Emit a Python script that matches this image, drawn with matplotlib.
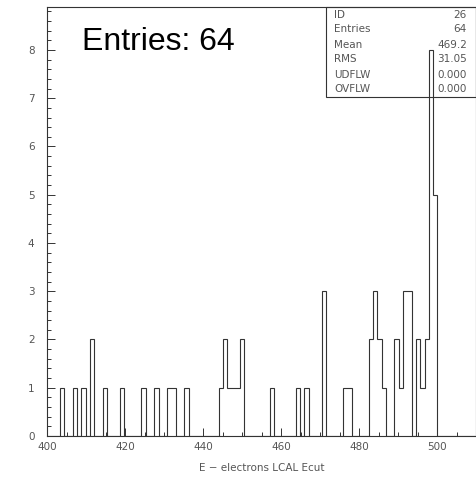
import matplotlib.pyplot as plt
import numpy as np
from matplotlib.ticker import MultipleLocator

# histogram: 100 bins from 400 to 510
x_lo = 400.0
x_hi = 510.0
n_bins = 100

# non-empty bins (index) and their contents
filled_bins = [3, 6, 8, 10, 13, 17, 22, 25, 28, 29, 32,
               40, 41, 42, 43, 44, 45, 52, 58, 60, 64, 69, 70,
               75, 76, 77, 78, 81, 82, 83, 84, 86, 87, 88, 89, 90]
bin_counts = [1, 1, 1, 2, 1, 1, 1, 1, 1, 1, 1,
              1, 2, 1, 1, 1, 2, 1, 1, 1, 3, 1, 1,
              2, 3, 2, 1, 2, 1, 3, 3, 2, 1, 2, 8, 5]

stat_names = ["ID", "Entries", "Mean", "RMS", "UDFLW", "OVFLW"]
stat_values = ["26", "64", "469.2", "31.05", "0.000", "0.000"]

title_text = "Entries: 64"
xlabel = "E \u2212 electrons LCAL Ecut"

edges = np.linspace(x_lo, x_hi, n_bins + 1)
counts = np.zeros(n_bins)
counts[filled_bins] = bin_counts

W, H = 477, 482
fig = plt.figure(figsize=(W / 100, H / 100), dpi=100)
ax = fig.add_axes([47 / W, (H - 436) / H, (476 - 47) / W, (436 - 7) / H])

line_col = "#333333"
txt_col = "#555555"

ax.stairs(counts, edges, color=line_col, lw=0.8, baseline=0)
ax.set_xlim(x_lo, x_hi)
ax.set_ylim(0, 8.89)

ax.xaxis.set_major_locator(MultipleLocator(20))
ax.xaxis.set_minor_locator(MultipleLocator(5))
ax.yaxis.set_major_locator(MultipleLocator(1))
ax.yaxis.set_minor_locator(MultipleLocator(0.2))
ax.tick_params(which="both", direction="in", colors=line_col,
               labelcolor=txt_col, labelsize=7.5, width=0.7)
ax.tick_params(which="major", length=6)
ax.tick_params(which="minor", length=3)
ax.tick_params(axis="y", pad=9)
ax.tick_params(axis="x", pad=4)
for s in ax.spines.values():
    s.set_color(line_col)
    s.set_linewidth(0.8)

ax.set_xlabel(xlabel, fontsize=7.5, color=txt_col, labelpad=8)

ax.text(409, 8.0, title_text, fontsize=23, family="Liberation Sans",
        va="baseline", ha="left", color="black")

# statistics box in the top-right corner
bx0 = 326 / W
by0 = (H - 97) / H
bx1 = 476 / W
by1 = (H - 7) / H
fig.add_artist(plt.Rectangle((bx0, by0), bx1 - bx0, by1 - by0,
                             transform=fig.transFigure, fill=False,
                             ec=line_col, lw=0.8))
for i, (nm, val) in enumerate(zip(stat_names, stat_values)):
    yy = (H - 14.5 - 15 * i) / H
    fig.text(334 / W, yy, nm, fontsize=7.5, color=txt_col, va="center", ha="left")
    fig.text(467 / W, yy, val, fontsize=7.5, color=txt_col, va="center", ha="right")

fig.savefig("out.png", dpi=100)
